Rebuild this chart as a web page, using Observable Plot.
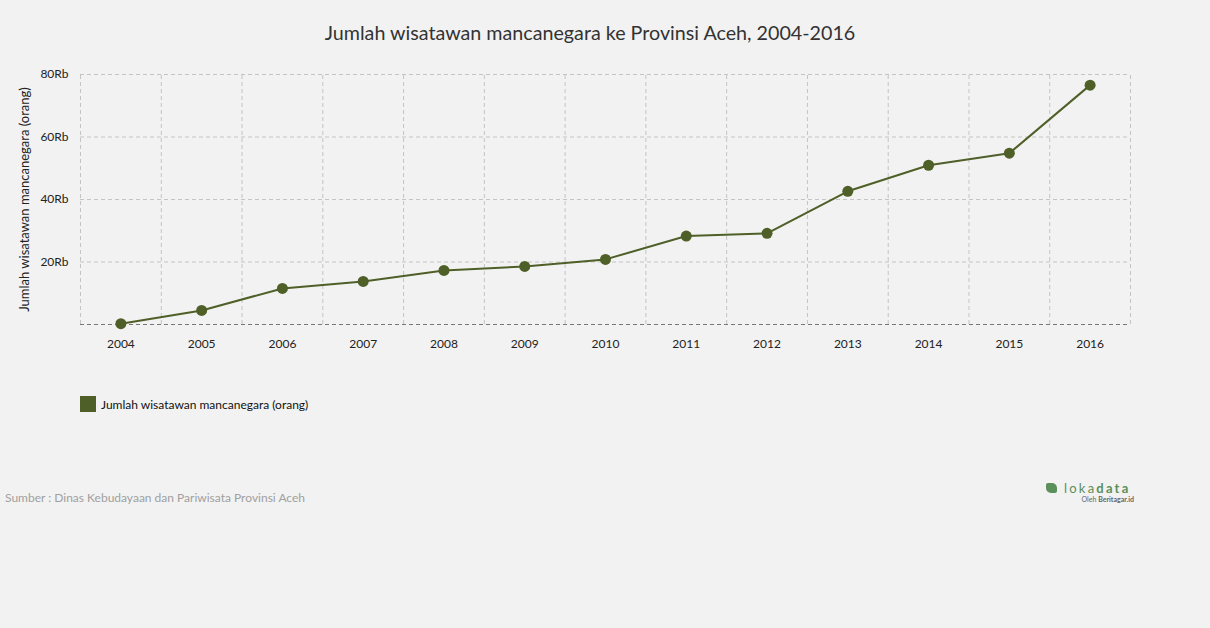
<!DOCTYPE html>
<html>
<head>
<meta charset="utf-8">
<script src="https://cdn.jsdelivr.net/npm/d3@7"></script>
<script src="https://cdn.jsdelivr.net/npm/@observablehq/plot@0.6"></script>
<style>
  html, body { margin: 0; padding: 0; background: #f2f2f2; }
  body { width: 1210px; height: 628px; position: relative; font-family: Lato, "Open Sans", sans-serif; overflow: hidden; }
  #title { position: absolute; top: 21px; left: 0; width: 1180px; text-align: center; font-size: 19.7px; color: #333; }
  #chart { position: absolute; top: 60px; left: 0; }
  #chart svg g[aria-label="y-axis label"] text { font-size: 13px; }
  #legend { position: absolute; top: 396px; left: 80px; display: flex; align-items: center; font-size: 12px; color: #111; }
  #legend .sw { width: 16px; height: 16px; background: #4f5f28; margin-right: 5px; }
  #source { position: absolute; top: 490px; left: 5px; font-size: 12px; color: #a0a0a0; }
  #logo { position: absolute; top: 480px; left: 1046px; width: 90px; }
  #logo .main { font-size: 13px; color: #5b8f5b; letter-spacing: 2.2px; display: flex; align-items: center; }
  #logo .main b { font-weight: 700; }
  #logo .icon { width: 11px; height: 10px; background: #5b8f5b; border-radius: 2px 5px 2px 5px; margin-right: 7px; }
  #logo .sub { font-size: 7px; color: #666; text-align: right; margin-top: -1px; padding-right: 2px; }
</style>
</head>
<body>
<div id="title">Jumlah wisatawan mancanegara ke Provinsi Aceh, 2004-2016</div>
<div id="chart"></div>
<div id="legend"><div class="sw"></div><span>Jumlah wisatawan mancanegara (orang)</span></div>
<div id="source">Sumber : Dinas Kebudayaan dan Pariwisata Provinsi Aceh</div>
<div id="logo"><div class="main"><div class="icon"></div>loka<b>data</b></div><div class="sub">Oleh <b>Beritagar.id</b></div></div>
<script>
const years = [2004, 2005, 2006, 2007, 2008, 2009, 2010, 2011, 2012, 2013, 2014, 2015, 2016];
const visitors = [250, 4490, 11540, 13780, 17310, 18590, 20830, 28310, 29170, 42630, 50960, 54810, 76600];
const yTicks = [0, 20000, 40000, 60000, 80000];
const seriesName = "Jumlah wisatawan mancanegara (orang)";
const color = "#4f5f28";

const data = years.map((y, i) => ({ year: y, value: visitors[i] }));
const bounds = years.map(y => y - 0.5).concat([years[years.length - 1] + 0.5]);

const chart = Plot.plot({
  width: 1210,
  height: 300,
  marginTop: 14,
  marginBottom: 36,
  marginLeft: 80,
  marginRight: 80,
  style: { background: "transparent", fontFamily: "Lato, sans-serif", fontSize: "12px", color: "#333" },
  x: { domain: [bounds[0], bounds[bounds.length - 1]], label: null },
  y: { domain: [0, 80000], label: null },
  marks: [
    Plot.ruleX(bounds, { y1: 0, y2: 80000, stroke: "#c4c4c4", strokeDasharray: "4,3" }),
    Plot.ruleY(yTicks.filter(d => d > 0), { stroke: "#c4c4c4", strokeDasharray: "4,3" }),
    Plot.ruleY([0], { stroke: "#777", strokeDasharray: "4,3" }),
    Plot.axisX({ ticks: years, tickFormat: d => String(d), tickSize: 0, tickPadding: 15, fill: "#222", label: null }),
    Plot.axisY({ ticks: yTicks, tickFormat: d => d === 0 ? "" : (d / 1000) + "Rb", tickSize: 0, tickPadding: 12, fill: "#222",
                 label: seriesName, labelAnchor: "center", labelArrow: "none", labelOffset: 61 }),
    Plot.line(data, { x: "year", y: "value", stroke: color, strokeWidth: 2 }),
    Plot.dot(data, { x: "year", y: "value", fill: color, r: 5.5 })
  ]
});
document.getElementById("chart").appendChild(chart);
</script>
</body>
</html>
